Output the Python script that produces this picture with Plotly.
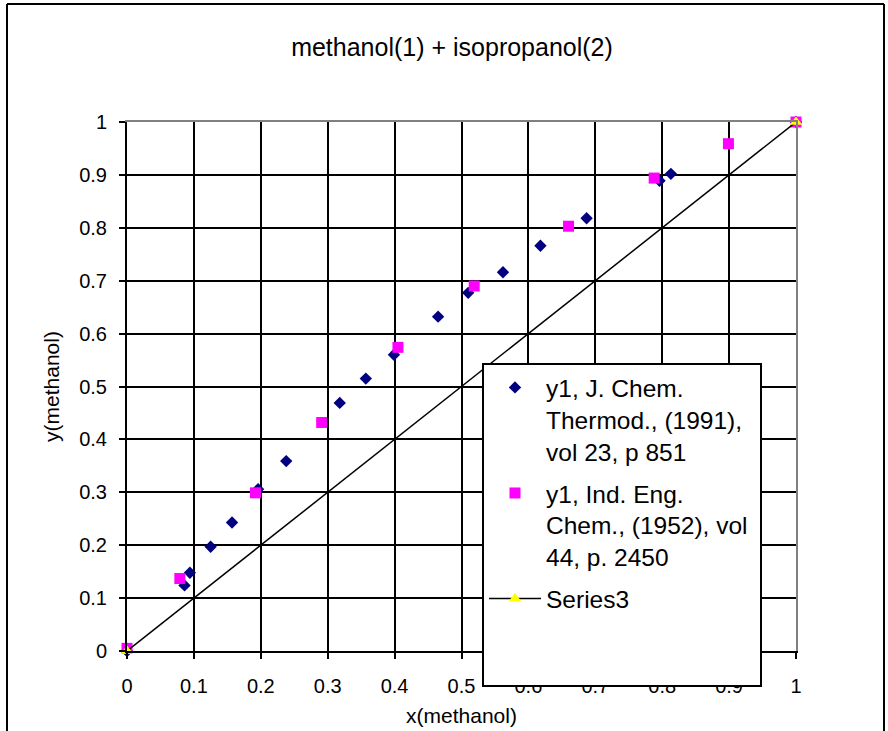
import plotly.graph_objects as go

# Data
x_jct = [0.0, 0.086, 0.094, 0.125, 0.157, 0.196, 0.238, 0.318, 0.357, 0.399,
         0.465, 0.510, 0.562, 0.618, 0.687, 0.796, 0.813, 1.0]
y_jct = [0.0, 0.124, 0.148, 0.197, 0.243, 0.306, 0.359, 0.469, 0.515, 0.560,
         0.632, 0.677, 0.716, 0.766, 0.818, 0.889, 0.902, 1.0]

x_iec = [0.0, 0.079, 0.192, 0.291, 0.405, 0.519, 0.660, 0.788, 0.899, 1.0]
y_iec = [0.005, 0.137, 0.299, 0.432, 0.574, 0.690, 0.803, 0.894, 0.959, 1.0]

x_diag = [0.0, 1.0]
y_diag = [0.0, 1.0]

tick_vals = [0, 0.1, 0.2, 0.3, 0.4, 0.5, 0.6, 0.7, 0.8, 0.9, 1]
tick_text = ["0", "0.1", "0.2", "0.3", "0.4", "0.5", "0.6", "0.7", "0.8", "0.9", "1"]

name_jct = "y1, J. Chem.<br>Thermod., (1991),<br>vol 23, p 851"
name_iec = "y1, Ind. Eng.<br>Chem., (1952), vol&nbsp;<br>44, p. 2450"
name_diag = "Series3<br>&nbsp;<br>&nbsp;"

FONT = "Liberation Sans, Arial, sans-serif"

W, H = 888, 731
ML, MR, MT, MB = 127, 92, 122, 80
PW = W - ML - MR          # plot width in px (669)
PH = H - MT - MB          # plot height in px (529)


def px_x(page_x):
    return (page_x - ML) / PW


def px_y(page_y):
    return (MT + PH - page_y) / PH


fig = go.Figure()
fig.add_trace(go.Scatter(
    x=x_jct, y=y_jct, mode="markers", name=name_jct, legendgroup="a",
    marker=dict(symbol="diamond", size=9.5, color="#000080"),
    cliponaxis=False))
fig.add_trace(go.Scatter(
    x=x_iec, y=y_iec, mode="markers", name=name_iec, legendgroup="b",
    marker=dict(symbol="square", size=11, color="#FF00FF"),
    cliponaxis=False))
fig.add_trace(go.Scatter(
    x=x_diag, y=y_diag, mode="lines+markers", name=name_diag, legendgroup="c",
    line=dict(color="black", width=1.5),
    marker=dict(symbol="triangle-up", size=11, color="#FFFF00",
                line=dict(width=0)),
    cliponaxis=False))

axis_common = dict(
    range=[0, 1], tickvals=tick_vals, ticktext=tick_text,
    showgrid=True, gridcolor="black", gridwidth=2,
    zeroline=False, showline=True, linecolor="black", linewidth=2,
    ticks="outside", ticklen=6, tickwidth=2, tickcolor="black",
    tickfont=dict(family=FONT, size=20, color="black"),
    fixedrange=True, automargin=False,
)

overlay_common = dict(
    range=[0, 1], showgrid=False, zeroline=False, showticklabels=False,
    ticks="", showline=True, linecolor="#808080", linewidth=2,
    fixedrange=True, automargin=False,
)

fig.update_layout(
    width=W, height=H,
    margin=dict(l=ML, r=MR, t=MT, b=MB),
    paper_bgcolor="white", plot_bgcolor="white",
    font=dict(family=FONT, color="black"),
    title=dict(text="methanol(1) + isopropanol(2)",
               font=dict(family=FONT, size=25, color="black"),
               x=452 / W, xanchor="center", xref="container",
               y=1 - 47 / H, yanchor="middle", yref="container"),
    xaxis=dict(**axis_common, ticklabelstandoff=10,
               title=dict(text="x(methanol)", standoff=12,
                          font=dict(family=FONT, size=21, color="black"))),
    yaxis=dict(**axis_common, ticklabelstandoff=8,
               title=dict(text="y(methanol)", standoff=14,
                          font=dict(family=FONT, size=21, color="black"))),
    xaxis2=dict(**overlay_common, overlaying="x", side="top"),
    yaxis2=dict(**overlay_common, overlaying="y", side="right"),
    showlegend=True,
    legend=dict(x=px_x(482), y=px_y(363),
                xanchor="left", yanchor="top",
                bgcolor="white", bordercolor="black", borderwidth=2,
                font=dict(family=FONT, size=24.5, color="black"),
                valign="top", itemwidth=52, tracegroupgap=7),
    shapes=[
        # outer chart frame (bottom edge lies below the visible page)
        dict(type="line", xref="paper", yref="paper",
             x0=px_x(7), x1=px_x(7), y0=px_y(731), y1=px_y(4),
             line=dict(color="black", width=2), layer="above"),
        dict(type="line", xref="paper", yref="paper",
             x0=px_x(884), x1=px_x(884), y0=px_y(731), y1=px_y(4),
             line=dict(color="black", width=2), layer="above"),
        dict(type="line", xref="paper", yref="paper",
             x0=px_x(7), x1=px_x(884), y0=px_y(4), y1=px_y(4),
             line=dict(color="black", width=2), layer="above"),
    ],
)

# invisible trace so the grey top/right border axes are drawn
fig.add_trace(go.Scatter(x=[None], y=[None], xaxis="x2", yaxis="y2",
                         showlegend=False, hoverinfo="skip"))

fig.write_html(
    "out.html",
    config={"displayModeBar": False},
    post_script="document.body.style.margin='0px';"
                "document.body.style.overflow='hidden';",
)
